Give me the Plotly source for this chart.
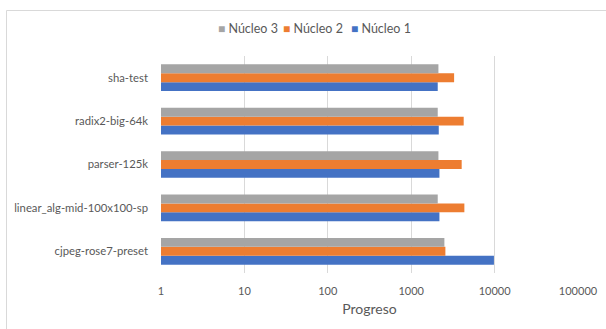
import plotly.graph_objects as go

categories = ["cjpeg-rose7-preset", "linear_alg-mid-100x100-sp", "parser-125k",
              "radix2-big-64k", "sha-test"]
nucleo1 = [9820, 2180, 2180, 2140, 2080]
nucleo2 = [2570, 4340, 4030, 4260, 3270]
nucleo3 = [2500, 2080, 2120, 2080, 2120]
series_names = ["Núcleo 1", "Núcleo 2", "Núcleo 3"]
series_colors = ["#4472C4", "#ED7D31", "#A5A5A5"]
tick_vals = [1, 10, 100, 1000, 10000, 100000]
tick_text = ["1", "10", "100", "1000", "10000", "100000"]

W, H = 606, 329
ml, mr, mt, mb = 161, 28, 56, 56
FONT = "Lato"
GRAY = "#595959"

fig = go.Figure()
for name, vals, col in zip(series_names, [nucleo1, nucleo2, nucleo3], series_colors):
    fig.add_trace(go.Bar(name=name, y=categories, x=vals, orientation="h",
                         marker=dict(color=col, line=dict(width=0)), showlegend=False))

pw = W - ml - mr
ph = H - mt - mb

# legend as annotations (reversed order, Excel style)
annotations = []
leg_x = [216, 281, 349]
for px, name, col in zip(leg_x, series_names[::-1], series_colors[::-1]):
    annotations.append(dict(
        xref="paper", yref="paper", x=(px - ml) / pw, y=1 + (mt - 29) / ph,
        xanchor="left", yanchor="middle", showarrow=False,
        text=f"<span style='color:{col};font-size:12px'>■</span> {name}",
        font=dict(family=FONT, size=12.5, color=GRAY)))

fig.update_layout(
    width=W, height=H,
    margin=dict(l=ml, r=mr, t=mt, b=mb),
    barmode="group", bargap=0.385, bargroupgap=0,
    plot_bgcolor="white", paper_bgcolor="white",
    font=dict(family=FONT, color=GRAY, size=12),
    showlegend=False,
    annotations=annotations,
    xaxis=dict(type="log", range=[0, 5], tickvals=tick_vals, ticktext=tick_text,
               showgrid=True, gridcolor="#D9D9D9", gridwidth=1, zeroline=False,
               showline=False, ticks="", tickfont=dict(size=11), ticklabelstandoff=10,
               automargin=False,
               title=dict(text="Progreso", font=dict(size=14, color=GRAY), standoff=8)),
    yaxis=dict(type="category", showgrid=False, showline=False, ticks="",
               ticklabelstandoff=12, tickfont=dict(size=11.3), automargin=False),
    shapes=[dict(type="rect", xref="paper", yref="paper",
                 x0=(6.5 - ml) / pw, x1=(W + 5 - ml) / pw,
                 y0=-(H + 5 - mt - ph) / ph, y1=1 + (mt - 10.5) / ph,
                 line=dict(color="#D9D9D9", width=1), layer="below")],
)

fig.write_html("out.html")
